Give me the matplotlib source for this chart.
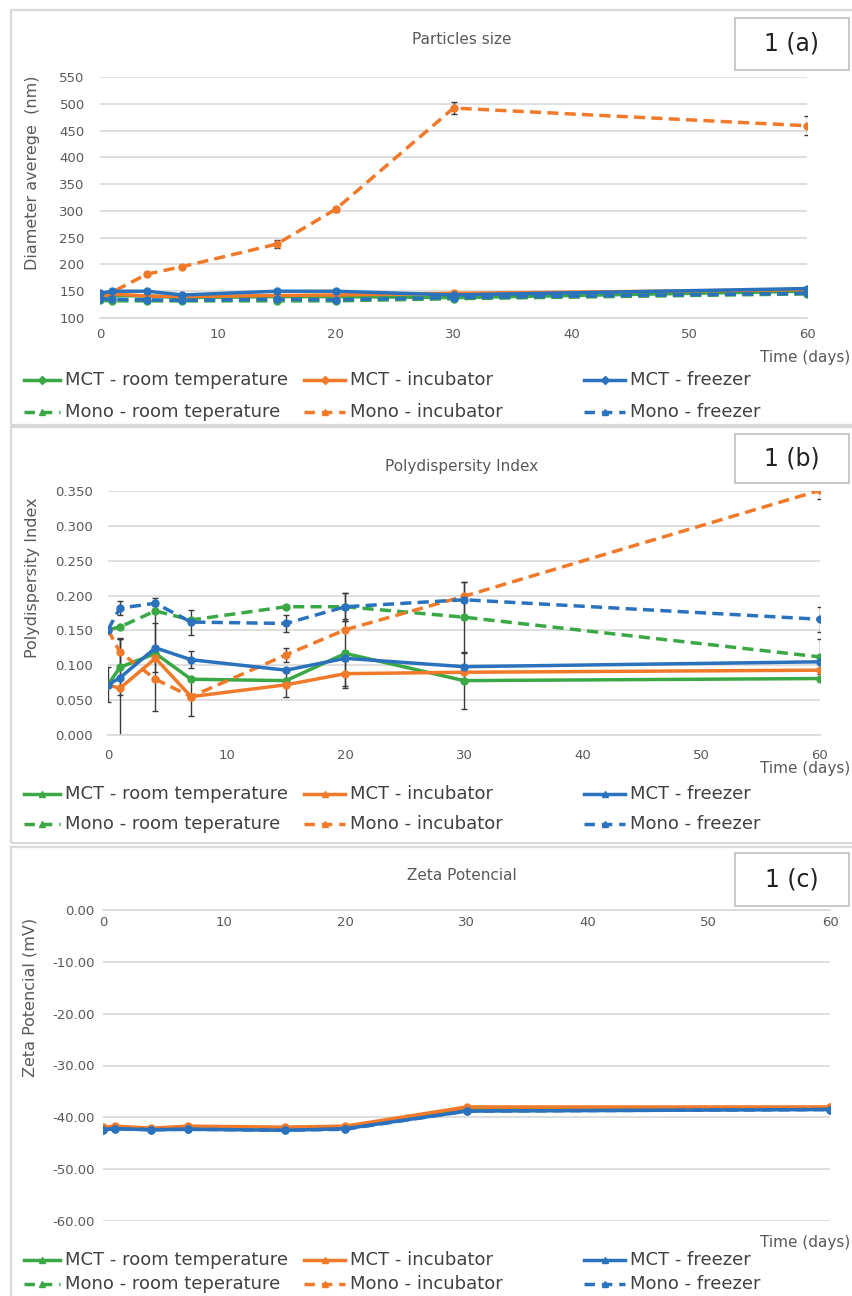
import matplotlib
matplotlib.use("Agg")
import matplotlib.pyplot as plt
from matplotlib.lines import Line2D
from matplotlib.patches import Rectangle
from matplotlib.ticker import FormatStrFormatter, MultipleLocator

plt.rcParams['font.family'] = ['DejaVu Sans']
plt.rcParams['axes.unicode_minus'] = False

# ---------------- data ----------------
days = [0, 1, 4, 7, 15, 20, 30, 60]
series_labels = ["MCT - room temperature", "MCT - incubator", "MCT - freezer",
                 "Mono - room teperature", "Mono - incubator", "Mono - freezer"]

# Particle size (nm)
size_mct_room = [140, 142, 141, 138, 140, 140, 138, 150]
size_mct_inc = [141, 145, 141, 140, 142, 143, 146, 153]
size_mct_frz = [146, 150, 150, 143, 150, 150, 143, 155]
size_mono_room = [133, 132, 132, 132, 132, 132, 136, 145]
size_mono_inc = [138, 148, 182, 196, 238, 303, 492, 459]
size_mono_frz = [136, 135, 134, 133, 135, 134, 138, 146]
size_err_mono_inc = [0, 0, 3, 3, 8, 5, 12, 18]

# Polydispersity index
pdi_mct_room = [0.072, 0.097, 0.117, 0.080, 0.078, 0.117, 0.078, 0.081]
pdi_mct_inc = [0.072, 0.067, 0.110, 0.055, 0.072, 0.088, 0.090, 0.093]
pdi_mct_frz = [0.072, 0.082, 0.125, 0.108, 0.093, 0.110, 0.098, 0.105]
pdi_mono_room = [0.151, 0.155, 0.178, 0.165, 0.184, 0.184, 0.169, 0.112]
pdi_mono_inc = [0.151, 0.119, 0.080, 0.055, 0.115, 0.151, 0.199, 0.351]
pdi_mono_frz = [0.151, 0.182, 0.189, 0.162, 0.160, 0.184, 0.194, 0.166]
pdi_err_mct_room = [0.025, 0.04, 0.0, 0.0, 0.0, 0.05, 0.04, 0.0]
pdi_err_mct_inc = [0.0, 0.07, 0.075, 0.028, 0.018, 0.018, 0.0, 0.0]
pdi_err_mct_frz = [0.0, 0.0, 0.035, 0.012, 0.0, 0.0, 0.0, 0.0]
pdi_err_mono_room = [0.0, 0.0, 0.0, 0.0, 0.0, 0.02, 0.05, 0.025]
pdi_err_mono_inc = [0.0, 0.02, 0.0, 0.0, 0.01, 0.0, 0.0, 0.012]
pdi_err_mono_frz = [0.0, 0.01, 0.008, 0.018, 0.012, 0.02, 0.025, 0.018]

# Zeta potential (mV)
zeta_mct_room = [-42.2, -42.0, -42.3, -42.1, -42.3, -42.0, -38.5, -38.3]
zeta_mct_inc = [-41.9, -41.7, -42.1, -41.7, -41.9, -41.7, -38.0, -38.0]
zeta_mct_frz = [-42.4, -42.2, -42.4, -42.3, -42.5, -42.2, -38.8, -38.5]
zeta_mono_room = [-42.3, -42.1, -42.3, -42.2, -42.3, -42.1, -38.6, -38.4]
zeta_mono_inc = [-42.0, -41.8, -42.2, -41.9, -42.0, -41.8, -38.2, -38.1]
zeta_mono_frz = [-42.4, -42.2, -42.4, -42.3, -42.5, -42.3, -38.8, -38.5]

# ---------------- style ----------------
GREEN, ORANGE, BLUE = "#3aa845", "#f07a2a", "#2a72bd"
colors = [GREEN, ORANGE, BLUE, GREEN, ORANGE, BLUE]
dashed = [False, False, False, True, True, True]
GRID = "#d9d9d9"
TXT = "#595959"
DASH = (0, (3.2, 1.8))
TITLE_X = 462

W, H = 852, 1296
fig = plt.figure(figsize=(W / 100, H / 100), dpi=100)
fig.patch.set_facecolor("white")


def rect(l, r, t, b):
    return [l / W, 1 - b / H, (r - l) / W, (b - t) / H]


def ftext(x, y, s, **kw):
    fig.text(x / W, 1 - y / H, s, **kw)


def frame(t, b):
    fig.add_artist(Rectangle((11 / W, 1 - b / H), 860 / W, (b - t) / H,
                             transform=fig.transFigure, fill=False,
                             ec=GRID, lw=1.6))


def labelbox(t, b, s):
    fig.add_artist(Rectangle((735 / W, 1 - b / H), 114 / W, (b - t) / H,
                             transform=fig.transFigure, fill=True, fc="white",
                             ec="#bfbfbf", lw=1.2))
    ftext(792, (t + b) / 2, s, ha="center", va="center", fontsize=17, color="#222222")


def legend(y1, y2, mct_marker):
    cols = [(24, 60, 65), (304, 345, 350), (584, 625, 630)]
    for i, (x0, x1, xt) in enumerate(cols):
        # MCT row
        fig.add_artist(Line2D([x0 / W, x1 / W], [1 - y1 / H, 1 - y1 / H], transform=fig.transFigure,
                              color=colors[i], lw=2.5))
        fig.add_artist(Line2D([(x0 + x1) / 2 / W], [1 - y1 / H], transform=fig.transFigure,
                              color=colors[i], marker=mct_marker, ms=4.5, lw=0))
        ftext(xt, y1, series_labels[i], ha="left", va="center", fontsize=13, color="#404040")
        # Mono row
        fig.add_artist(Line2D([x0 / W, x1 / W], [1 - y2 / H, 1 - y2 / H], transform=fig.transFigure,
                              color=colors[i + 3], lw=2.5, linestyle=(0, (3.0, 2.0))))
        fig.add_artist(Line2D([(x0 + x1) / 2 / W], [1 - y2 / H], transform=fig.transFigure,
                              color=colors[i + 3], marker="^", ms=5, lw=0))
        ftext(xt, y2, series_labels[i + 3], ha="left", va="center", fontsize=13, color="#404040")


def style_axes(ax, ypad, xpad):
    ax.set_facecolor("none")
    for s in ["left", "right", "top"]:
        ax.spines[s].set_visible(False)
    ax.spines["bottom"].set_color(GRID)
    ax.spines["bottom"].set_linewidth(1.2)
    ax.grid(axis="y", color=GRID, lw=1.2)
    ax.set_axisbelow(True)
    ax.tick_params(axis="both", length=0, colors=TXT, labelsize=9.5)
    ax.tick_params(axis="y", pad=ypad)
    ax.tick_params(axis="x", pad=xpad)
    ax.set_xlim(0, 60)
    ax.set_xticks([0, 10, 20, 30, 40, 50, 60])


def plot_series(ax, ys, errs=None):
    for i, y in enumerate(ys):
        if errs is not None and errs[i] is not None:
            ax.errorbar(days, y, yerr=errs[i], fmt="none", ecolor="#3a3a3a",
                        elinewidth=1.0, capsize=2.2, capthick=1.0, zorder=2)
    for i, y in enumerate(ys):
        ax.plot(days, y, color=colors[i], lw=2.5,
                linestyle=DASH if dashed[i] else "-",
                marker="o", ms=5, zorder=3 + (i % 3) * 0.1)


# ---------------- panel (a) ----------------
frame(10, 425)
ax1 = fig.add_axes(rect(100, 807, 77, 318))
style_axes(ax1, 11, 7)
ax1.set_ylim(100, 550)
ax1.yaxis.set_major_locator(MultipleLocator(50))
plot_series(ax1, [size_mct_room, size_mct_inc, size_mct_frz,
                  size_mono_room, size_mono_inc, size_mono_frz],
            [None, None, None, None, size_err_mono_inc, None])
ftext(TITLE_X, 39, "Particles size", ha="center", va="center", fontsize=11, color=TXT)
ftext(33, 173, "Diameter averege  (nm)", rotation=90, ha="center", va="center",
      fontsize=11.5, color=TXT)
ftext(850, 357, "Time (days)", ha="right", va="center", fontsize=11, color=TXT)
labelbox(18, 70, "1 (a)")
legend(380, 412, "D")

# ---------------- panel (b) ----------------
frame(427, 843)
ax2 = fig.add_axes(rect(108, 820, 491, 735))
style_axes(ax2, 11, 10)
ax2.set_ylim(0, 0.35)
ax2.yaxis.set_major_locator(MultipleLocator(0.05))
ax2.yaxis.set_major_formatter(FormatStrFormatter("%.3f"))
plot_series(ax2, [pdi_mct_room, pdi_mct_inc, pdi_mct_frz,
                  pdi_mono_room, pdi_mono_inc, pdi_mono_frz],
            [pdi_err_mct_room, pdi_err_mct_inc, pdi_err_mct_frz,
             pdi_err_mono_room, pdi_err_mono_inc, pdi_err_mono_frz])
ftext(TITLE_X, 467, "Polydispersity Index", ha="center", va="center", fontsize=11, color=TXT)
ftext(33, 578, "Polydispersity Index", rotation=90, ha="center", va="center",
      fontsize=11.5, color=TXT)
ftext(850, 768, "Time (days)", ha="right", va="center", fontsize=11, color=TXT)
labelbox(434, 483, "1 (b)")
legend(794, 824, "^")

# ---------------- panel (c) ----------------
frame(847, 1300)
ax3 = fig.add_axes(rect(103, 830, 910, 1221))
style_axes(ax3, 6, 4)
ax3.set_ylim(-60, 0)
ax3.spines["bottom"].set_position(("data", 0))
ax3.yaxis.set_major_locator(MultipleLocator(10))
ax3.yaxis.set_major_formatter(FormatStrFormatter("%.2f"))
plot_series(ax3, [zeta_mct_room, zeta_mct_inc, zeta_mct_frz,
                  zeta_mono_room, zeta_mono_inc, zeta_mono_frz])
ftext(TITLE_X, 876, "Zeta Potencial", ha="center", va="center", fontsize=11, color=TXT)
ftext(30, 997, "Zeta Potencial (mV)", rotation=90, ha="center", va="center",
      fontsize=11.5, color=TXT)
ftext(850, 1242, "Time (days)", ha="right", va="center", fontsize=11, color=TXT)
labelbox(853, 906, "1 (c)")
legend(1260, 1284, "^")

fig.savefig("out.png", dpi=100, facecolor="white")
